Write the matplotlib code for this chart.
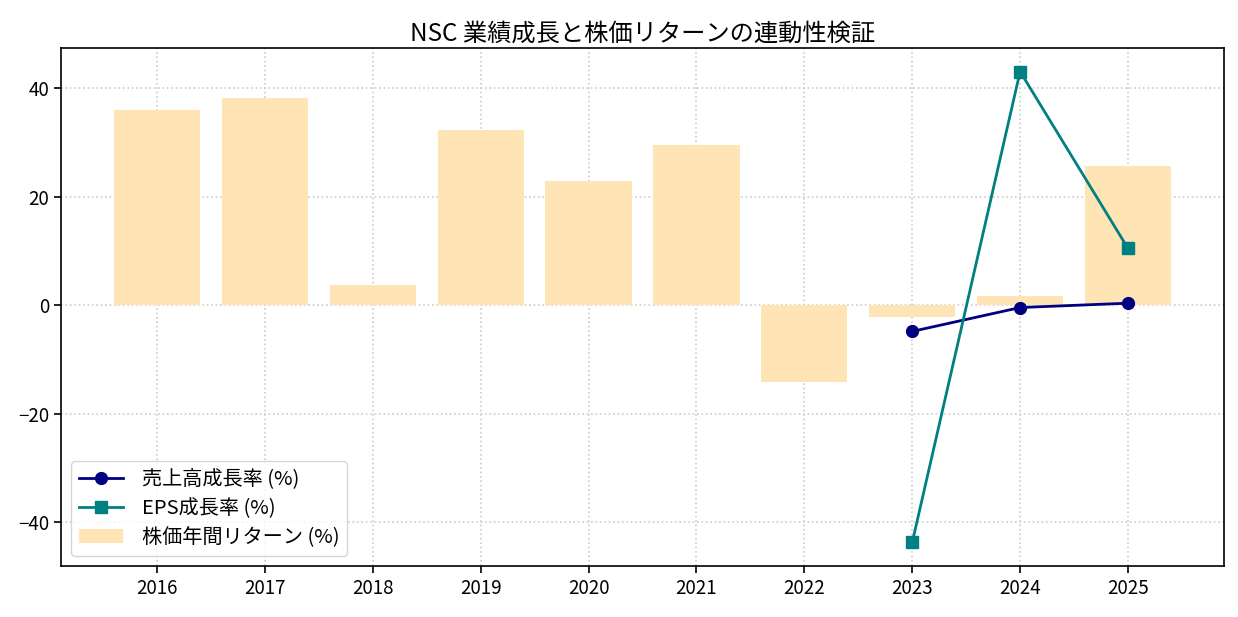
import matplotlib
matplotlib.use("Agg")
import matplotlib.pyplot as plt
import numpy as np

plt.rcParams['font.family'] = ['Noto Sans CJK JP', 'DejaVu Sans']
plt.rcParams['axes.unicode_minus'] = True

years = [2016, 2017, 2018, 2019, 2020, 2021, 2022, 2023, 2024, 2025]
stock_return = [36.0, 38.2, 3.7, 32.3, 22.9, 29.5, -14.1, -2.2, 1.8, 25.7]
line_years = [2023, 2024, 2025]
revenue_growth = [-4.8, -0.4, 0.4]
eps_growth = [-43.7, 43.1, 10.5]

fig = plt.figure(figsize=(12.38, 6.17), dpi=100)
ax = fig.add_axes([0.0493, 0.0827, 0.9394, 0.8395])

ax.bar(years, stock_return, width=0.8, color='moccasin', label='株価年間リターン (%)', zorder=1)
ax.plot(line_years, revenue_growth, color='navy', marker='o', markersize=8.5, linewidth=2,
        label='売上高成長率 (%)', zorder=3)
ax.plot(line_years, eps_growth, color='teal', marker='s', markersize=8.5, linewidth=2,
        label='EPS成長率 (%)', zorder=3)

ax.set_xticks(years)
ax.set_xticklabels([str(y) for y in years])
ax.grid(True, linestyle=':', color='#cccccc', linewidth=1.2)
ax.set_axisbelow(True)
ax.tick_params(labelsize=13.5, length=5, width=1.2)
for s in ax.spines.values():
    s.set_linewidth(1.2)
ax.set_title('NSC 業績成長と株価リターンの連動性検証', fontsize=17.5, pad=5)
ax.legend(loc='lower left', fontsize=14.5, labelspacing=0.38, handlelength=2.2,
          borderpad=0.4, handletextpad=0.9)

fig.savefig('out.png', dpi=100)
